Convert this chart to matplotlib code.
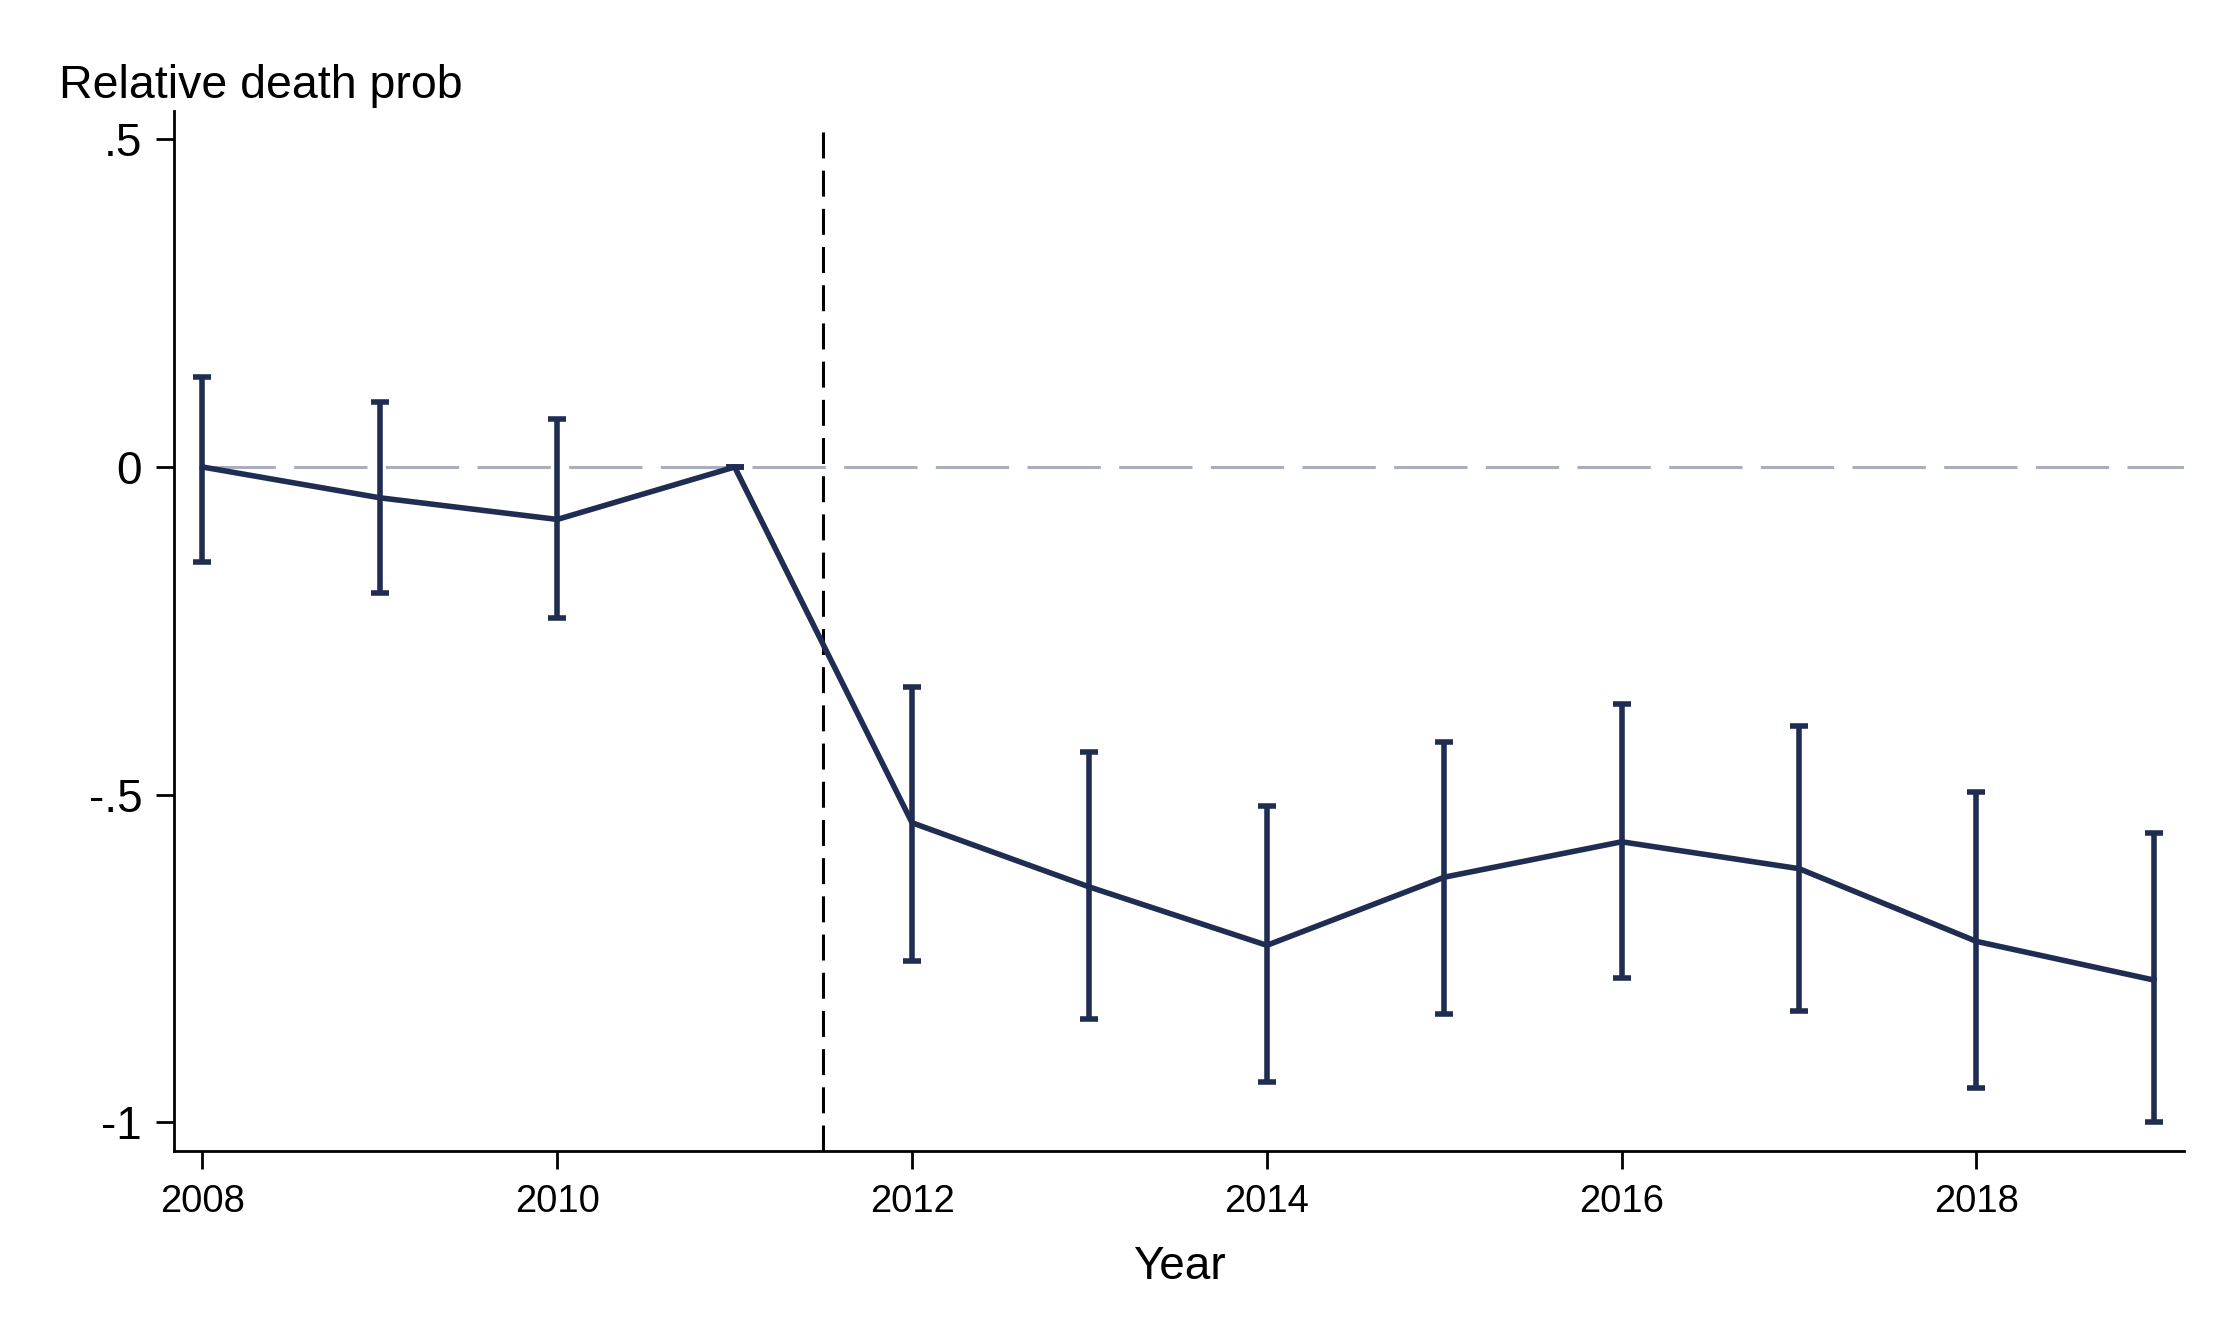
import numpy as np
import matplotlib
matplotlib.use('Agg')
import matplotlib.pyplot as plt

plt.rcParams['font.family'] = ['Liberation Sans', 'DejaVu Sans']

# Event-study estimates
years = [2008, 2009, 2010, 2011, 2012, 2013, 2014, 2015, 2016, 2017, 2018, 2019]
coef = [0.0, -0.047, -0.080, 0.0, -0.543, -0.641, -0.730, -0.626, -0.572, -0.613, -0.724, -0.783]
ci_hi = [0.138, 0.099, 0.073, 0.0, -0.335, -0.435, -0.517, -0.420, -0.361, -0.396, -0.496, -0.559]
ci_lo = [-0.145, -0.192, -0.230, 0.0, -0.754, -0.843, -0.939, -0.835, -0.780, -0.830, -0.948, -1.000]

treat_line = 2011.5
yticks = [0.5, 0, -0.5, -1]
ytick_labels = ['.5', '0', '-.5', '-1']
xticks = [2008, 2010, 2012, 2014, 2016, 2018]

navy = '#1f2d52'

fig = plt.figure(figsize=(22.32, 13.40), dpi=100)
ax = fig.add_axes([0.078, 0.141, 0.9005, 0.776])

years = np.array(years)
coef = np.array(coef)
yerr = [coef - np.array(ci_lo), np.array(ci_hi) - coef]

# reference lines
ax.axhline(0, xmin=(2008 - 2007.84) / (2019.17 - 2007.84), color='#a8adc0', lw=2.2,
           dashes=(24, 6), zorder=1)
ax.axvline(treat_line, ymax=0.99, color='black', lw=2.2, dashes=(8.5, 4), zorder=1)

ax.plot(years, coef, color=navy, lw=4.0, zorder=3, solid_joinstyle='round')
ax.errorbar(years, coef, yerr=yerr, fmt='none', ecolor=navy, elinewidth=4.0,
            capsize=6.5, capthick=4.0, zorder=3)

ax.set_xlim(2007.84, 2019.17)
ax.set_ylim(-1.044, 0.543)

ax.set_yticks(yticks)
ax.set_yticklabels(ytick_labels)
ax.set_xticks(xticks)

for s in ['top', 'right']:
    ax.spines[s].set_visible(False)
for s in ['left', 'bottom']:
    ax.spines[s].set_linewidth(2.0)

ax.tick_params(axis='y', labelsize=33, length=13, width=2.0, pad=10)
ax.tick_params(axis='x', labelsize=27.5, length=13, width=2.0, pad=11)

ax.set_xlabel('Year', fontsize=33, labelpad=18)
fig.text(0.0264, 0.927, 'Relative death prob', fontsize=33.5, va='baseline', ha='left')

fig.savefig('out.png', dpi=100)
